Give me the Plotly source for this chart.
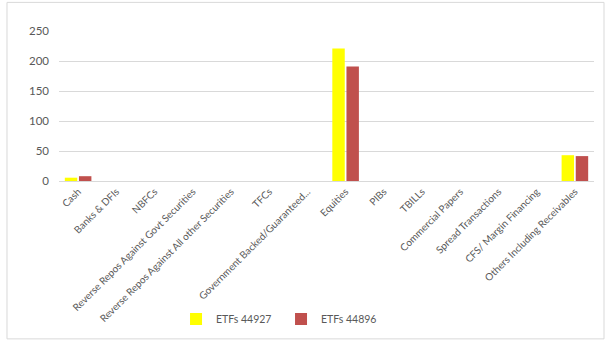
import plotly.graph_objects as go

categories = [
    "Cash",
    "Banks & DFIs",
    "NBFCs",
    "Reverse Repos Against Govt Securities",
    "Reverse Repos Against All other Securities",
    "TFCs",
    "Government Backed/Guaranteed...",
    "Equities",
    "PIBs",
    "TBILLs",
    "Commercial Papers",
    "Spread Transactions",
    "CFS/ Margin Financing",
    "Others Including Receivables",
]
etfs_44927 = [5.5, 0, 0, 0, 0, 0, 0, 221, 0, 0, 0, 0, 0, 43]
etfs_44896 = [8, 0, 0, 0, 0, 0, 0, 191, 0, 0, 0, 0, 0, 41.5]
y_ticks = [0, 50, 100, 150, 200, 250]

FONT = "Lato"
TEXT = "#595959"

fig = go.Figure()
fig.add_trace(go.Bar(
    name="ETFs 44927", x=categories, y=etfs_44927,
    marker=dict(color="#FFFF00", line=dict(width=0)),
))
fig.add_trace(go.Bar(
    name="ETFs 44896", x=categories, y=etfs_44896,
    marker=dict(color="#C0504D", line=dict(width=0)),
))

fig.update_layout(
    width=605, height=345,
    margin=dict(l=59, r=11, t=31, b=162),
    paper_bgcolor="white", plot_bgcolor="white",
    barmode="group", bargap=0.26, bargroupgap=0.12,
    font=dict(family=FONT, color=TEXT, size=10),
    showlegend=True,
    legend=dict(
        orientation="h", x=0.415, xanchor="center", y=-0.92, yanchor="middle",
        font=dict(size=10.5, color=TEXT), itemwidth=30,
        entrywidth=60, traceorder="normal",
    ),
    xaxis=dict(
        tickangle=-45, tickfont=dict(size=10, color=TEXT),
        showline=True, linecolor="#D9D9D9", linewidth=1,
        ticks="", showgrid=False,
    ),
    yaxis=dict(
        range=[0, 250], tickvals=y_ticks, tickfont=dict(size=11.5, color=TEXT),
        showgrid=True, gridcolor="#D9D9D9", gridwidth=1,
        zeroline=False, ticks="", ticklen=0, ticklabelstandoff=9,
    ),
    shapes=[dict(
        type="rect", xref="paper", yref="paper",
        x0=-0.0972, x1=1.0187, y0=-1.0526, y1=1.1908,
        line=dict(color="#D9D9D9", width=1), fillcolor="rgba(0,0,0,0)",
        layer="below",
    )],
)

fig.write_html("out.html")
